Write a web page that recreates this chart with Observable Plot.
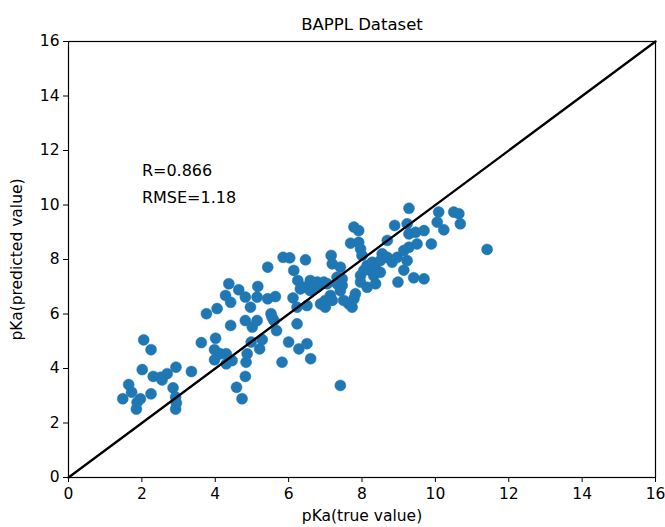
<!DOCTYPE html>
<html>
<head>
<meta charset="utf-8">
<script src="https://cdn.jsdelivr.net/npm/d3@7"></script>
<script src="https://cdn.jsdelivr.net/npm/@observablehq/plot@0.6"></script>
<style>
  html, body { margin: 0; padding: 0; background: #fff; }
</style>
</head>
<body>
<div id="chart"></div>
<script>
const title = "BAPPL Dataset";
const xLabel = "pKa(true value)";
const yLabel = "pKa(predicted value)";
const annotations = ["R=0.866", "RMSE=1.18"];
const annotationX = [2, 2];
const annotationY = [11, 10];
const tickValues = [0, 2, 4, 6, 8, 10, 12, 14, 16];
const identityLine = [0, 16];

const trueValues = [
  1.48,1.64,1.72,1.87,1.96,1.85,2.25,2.05,2.25,2.01,2.31,2.51,2.69,2.55,2.93,2.85,2.92,2.92,2.94,3.35,
  3.62,3.76,4.05,4.01,3.98,3.98,4.14,4.30,4.30,4.46,4.42,4.37,4.28,4.42,4.58,4.73,4.82,4.84,4.87,4.64,
  4.82,4.96,4.82,5.01,5.14,4.98,5.21,5.28,5.16,5.14,5.43,5.64,5.43,5.52,5.60,5.67,5.82,6.00,5.85,6.03,
  6.14,6.25,6.12,6.23,6.28,5.55,
  6.46,6.32,6.41,6.59,6.78,6.96,7.05,6.59,6.78,6.23,6.50,6.50,6.60,7.41,6.87,7.00,7.14,7.00,7.19,7.50,
  7.64,7.73,7.82,7.78,7.16,7.19,7.41,7.46,7.32,7.32,7.46,7.41,7.78,7.91,7.69,7.91,7.96,8.00,8.14,8.28,
  8.37,8.32,8.23,8.05,7.96,8.50,7.96,8.14,8.37,
  8.55,8.50,8.69,8.82,8.96,9.14,9.23,9.28,8.69,9.50,8.89,9.23,9.28,9.46,9.69,9.89,9.14,9.41,9.69,8.98,
  9.28,10.09,10.05,10.23,10.50,10.64,10.68,11.41
];
const predictedValues = [
  2.89,3.41,3.13,2.76,2.89,2.51,3.07,5.05,4.69,3.96,3.71,3.68,3.81,3.58,4.05,3.29,2.95,2.51,2.73,3.89,
  4.95,6.01,6.20,5.11,4.69,4.32,4.54,4.54,4.17,4.29,5.58,7.11,6.68,6.43,3.31,2.89,3.71,4.23,4.54,6.89,
  6.62,6.25,5.76,5.52,5.76,4.97,4.72,5.06,7.01,6.62,6.56,6.64,7.72,6.01,5.76,5.39,4.23,4.97,8.08,8.06,
  7.60,7.23,6.59,5.64,4.72,5.88,
  7.99,6.92,6.98,7.23,7.17,7.17,7.11,6.86,6.98,6.25,6.31,4.91,4.36,3.38,6.37,6.25,6.68,6.50,6.50,6.50,
  6.37,6.25,6.74,6.56,8.15,7.84,7.72,7.29,7.35,7.11,7.05,6.86,9.19,9.06,8.60,8.63,8.39,8.15,7.78,7.90,
  7.66,7.41,7.60,7.60,7.41,7.53,7.17,6.98,7.11,
  8.21,7.96,8.08,7.90,8.08,8.33,7.96,8.45,8.70,8.57,9.25,9.31,8.94,9.00,9.06,8.57,7.61,7.33,7.29,7.17,
  9.88,9.74,9.37,9.09,9.74,9.68,9.31,8.37
];

const points = trueValues.map((x, i) => ({x, y: predictedValues[i]}));
const lineData = identityLine.map(v => ({x: v, y: v}));
const annData = annotations.map((t, i) => ({t, x: annotationX[i], y: annotationY[i]}));

const chart = Plot.plot({
  width: 665,
  height: 527,
  marginLeft: 68,
  marginRight: 10,
  marginTop: 41,
  marginBottom: 50,
  style: {fontFamily: "DejaVu Sans", fontSize: "15.5px", color: "#000", background: "#fff"},
  x: {domain: [0, 16]},
  y: {domain: [0, 16]},
  marks: [
    Plot.dot(points, {x: "x", y: "y", r: 5.5, fill: "#1f77b4", stroke: "#1f77b4", strokeWidth: 0.5}),
    Plot.line(lineData, {x: "x", y: "y", stroke: "#000", strokeWidth: 2.3}),
    Plot.text(annData, {x: "x", y: "y", text: "t", textAnchor: "start", dy: -7, fontSize: 16, fill: "#000"}),
    Plot.frame({stroke: "#000", strokeWidth: 1.2}),
    Plot.axisX({ticks: tickValues, tickSize: 5, tickPadding: 5, tickFormat: d => String(d), fontSize: 15.5,
      label: xLabel, labelAnchor: "center", labelOffset: 43, labelArrow: "none"}),
    Plot.axisY({ticks: tickValues, tickSize: 5, tickPadding: 4, tickFormat: d => String(d), fontSize: 15.5,
      label: yLabel, labelAnchor: "center", labelOffset: 58, labelArrow: "none"}),
    Plot.text([title], {frameAnchor: "top", dy: -23, fontSize: 16.5, fill: "#000"})
  ]
});
document.getElementById("chart").appendChild(chart);
</script>
</body>
</html>
